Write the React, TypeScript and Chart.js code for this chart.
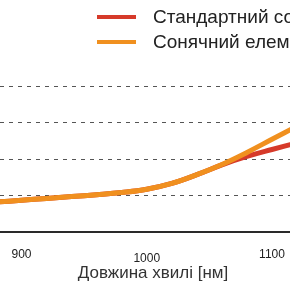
import React, { useEffect, useRef } from "react";
import { Chart, registerables } from "chart.js";

Chart.register(...registerables);

// Wavelength samples [nm]
const wavelengths = [880, 900, 920, 940, 960, 980, 1000, 1020, 1040, 1060, 1080, 1100, 1120];
// Standard solar cell (red)
const standardValues = [0.82, 0.87, 0.92, 0.97, 1.02, 1.08, 1.17, 1.33, 1.57, 1.84, 2.07, 2.26, 2.44];
// Solar cell (orange)
const solarValues = [0.82, 0.87, 0.92, 0.97, 1.02, 1.08, 1.17, 1.33, 1.57, 1.85, 2.18, 2.54, 2.9];

const seriesLabels = ["Стандартний сонячний елемент", "Сонячний елемент з покриттям"];
const seriesColors = ["#d63a2a", "#f0901f"];
const xTicks = [900, 1000, 1100];
const yTicks = [0, 1, 2, 3, 4];
const xTitle = "Довжина хвилі [нм]";

const FONT = "'Liberation Sans', Arial, Helvetica, sans-serif";
const CANVAS_W = 306;
const PX_PER_NM = 1.2525;
const X_MIN = 882.83;

const legendPlugin = {
  id: "customLegend",
  afterDraw(chart: any) {
    const ctx = chart.ctx;
    ctx.save();
    const rows = [17, 42];
    seriesLabels.forEach((label, i) => {
      const y = rows[i];
      ctx.strokeStyle = seriesColors[i];
      ctx.lineWidth = 4;
      ctx.lineCap = "butt";
      ctx.beginPath();
      ctx.moveTo(97, y);
      ctx.lineTo(136, y);
      ctx.stroke();
      ctx.fillStyle = "#222";
      ctx.font = `19px ${FONT}`;
      ctx.textBaseline = "middle";
      ctx.textAlign = "left";
      ctx.fillText(label, 153, y + 1);
    });
    ctx.restore();
  },
};

export default function App() {
  const ref = useRef<HTMLCanvasElement | null>(null);

  useEffect(() => {
    if (!ref.current) return;
    Chart.defaults.font.family = FONT;
    const mk = (vals: number[]) => wavelengths.map((x, i) => ({ x, y: vals[i] }));
    const chart = new Chart(ref.current, {
      type: "line",
      data: {
        datasets: [
          {
            label: seriesLabels[0],
            data: mk(standardValues),
            borderColor: seriesColors[0],
            borderWidth: 5,
            pointRadius: 0,
            tension: 0.4,
            fill: false,
            order: 2,
          },
          {
            label: seriesLabels[1],
            data: mk(solarValues),
            borderColor: seriesColors[1],
            borderWidth: 5,
            pointRadius: 0,
            tension: 0.4,
            fill: false,
            order: 1,
          },
        ],
      },
      options: {
        animation: false,
        responsive: false,
        layout: { padding: { top: 71.4, left: 0, right: 0, bottom: 0 } },
        plugins: { legend: { display: false }, tooltip: { enabled: false } },
        scales: {
          x: {
            type: "linear",
            min: X_MIN,
            max: X_MIN + CANVAS_W / PX_PER_NM,
            afterBuildTicks: (scale: any) => {
              scale.ticks = xTicks.map((v) => ({ value: v }));
            },
            afterFit: (scale: any) => {
              scale.paddingLeft = 0;
              scale.paddingRight = 0;
            },
            ticks: {
              includeBounds: false,
              padding: 15.4,
              color: "#222",
              maxRotation: 0,
              autoSkip: false,
              font: (c: any) =>
                c.tick && c.tick.value === 1000
                  ? { size: 12, lineHeight: 1.933 }
                  : { size: 12, lineHeight: 1.2 },
              callback: (v: any) => String(v),
            },
            grid: { display: false, drawTicks: false, tickLength: 0 },
            border: { display: true, color: "#2a2a2a", width: 2 },
            title: {
              display: true,
              text: xTitle,
              color: "#333",
              font: { size: 17, lineHeight: 1.2 },
              padding: { top: -23.2, bottom: 6.8 },
            },
          },
          y: {
            min: 0,
            max: 4.4,
            afterBuildTicks: (scale: any) => {
              scale.ticks = yTicks.map((v) => ({ value: v }));
            },
            afterFit: (scale: any) => {
              scale.width = 0;
              scale.paddingTop = 0;
              scale.paddingBottom = 0;
            },
            ticks: { display: false, includeBounds: false },
            grid: {
              drawTicks: false,
              tickLength: 0,
              color: (c: any) => (c.tick && c.tick.value === 0 ? "rgba(0,0,0,0)" : "#555"),
              lineWidth: 1,
            },
            border: { display: false, dash: [4, 5] },
          },
        },
      },
      plugins: [legendPlugin],
    } as any);
    return () => chart.destroy();
  }, []);

  return (
    <div
      style={{
        position: "fixed",
        left: 0,
        top: 0,
        width: 290,
        height: 290,
        overflow: "hidden",
        background: "#fff",
      }}
    >
      <canvas ref={ref} width={CANVAS_W} height={290} style={{ display: "block" }} />
    </div>
  );
}
